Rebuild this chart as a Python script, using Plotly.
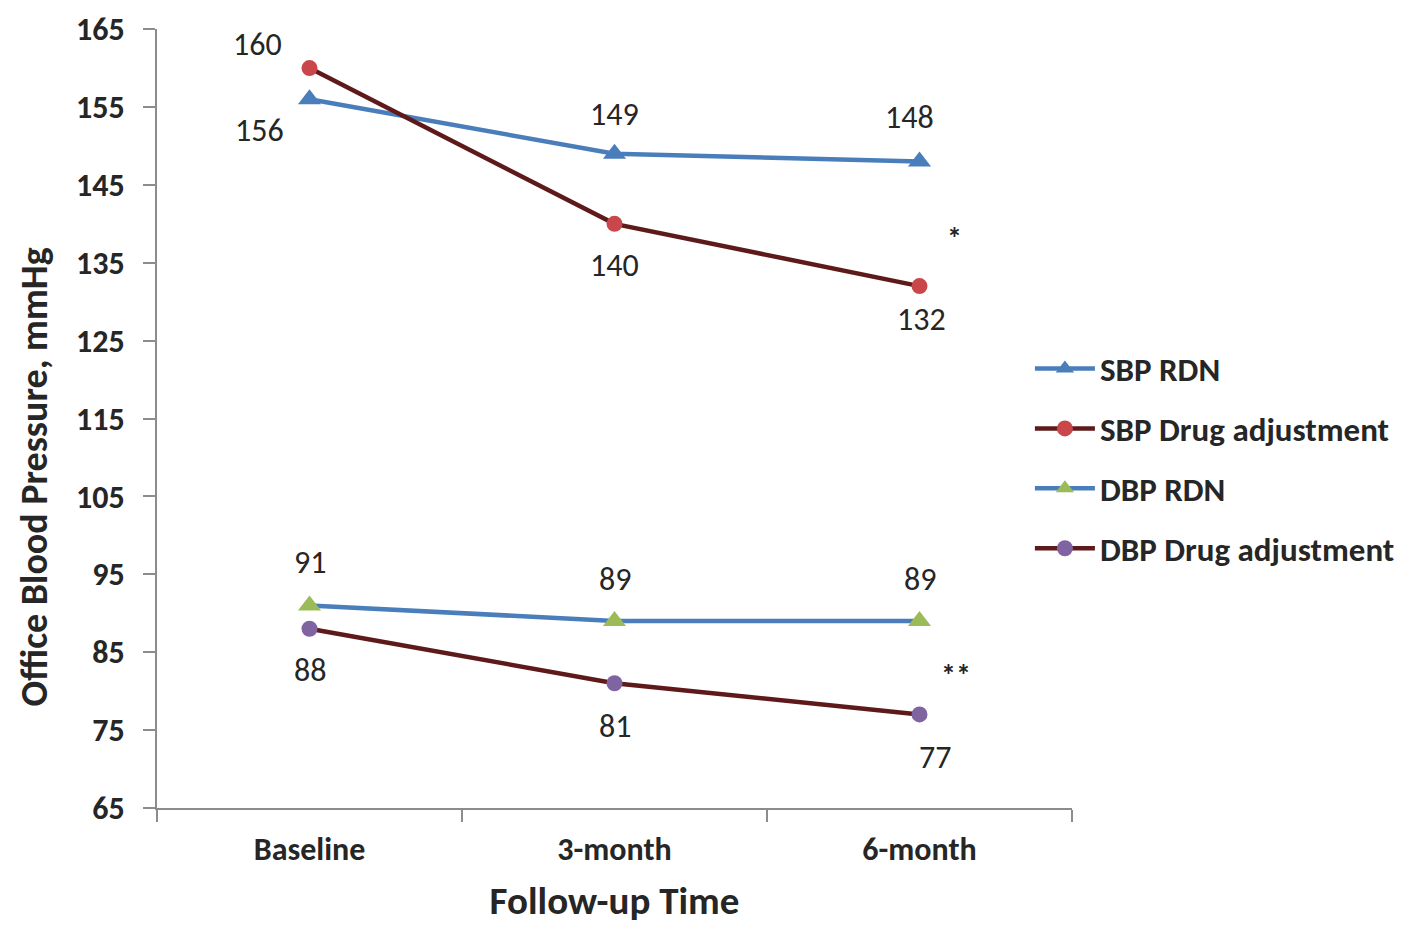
import plotly.graph_objects as go

categories = ["Baseline", "3-month", "6-month"]
sbp_rdn = [156, 149, 148]
sbp_drug = [160, 140, 132]
dbp_rdn = [91, 89, 89]
dbp_drug = [88, 81, 77]
y_ticks = [65, 75, 85, 95, 105, 115, 125, 135, 145, 155, 165]

FONT = "Carlito, 'Liberation Sans Narrow', 'Open Sans', sans-serif"
BLUE = "#4A7EBB"
DARKRED = "#5E1A1A"
TXT = "#262626"
AXC = "#8C8C8C"

series = [
    ("SBP RDN", sbp_rdn, BLUE, "triangle-up", BLUE, 20),
    ("SBP Drug adjustment", sbp_drug, DARKRED, "circle", "#C9474A", 16),
    ("DBP RDN", dbp_rdn, BLUE, "triangle-up", "#9BBB59", 20),
    ("DBP Drug adjustment", dbp_drug, DARKRED, "circle", "#8064A2", 16),
]

fig = go.Figure()
for i, (name, vals, lc, sym, mc, ms) in enumerate(series):
    fig.add_trace(go.Scatter(
        x=categories, y=vals, name=name, mode="lines+markers",
        line=dict(color=lc, width=4.5),
        marker=dict(symbol=sym, color=mc, size=ms),
        legendgroup=f"g{i}",
    ))

# label offsets (px): (xshift, yshift) per series per point
offsets = [
    [(-50, -31), (0, 39), (-10, 44)],
    [(-52, 24), (0, -42), (2, -33)],
    [(0, 43), (0, 41), (0, 41)],
    [(0, -42), (0, -43), (15, -43)],
]
for (name, vals, *_), offs in zip(series, offsets):
    for c, v, (dx, dy) in zip(categories, vals, offs):
        fig.add_annotation(x=c, y=v, text=str(v), showarrow=False,
                           xshift=dx, yshift=dy,
                           font=dict(family=FONT, size=32, color=TXT))

fig.add_annotation(x="6-month", y=139.5, text="<b>*</b>", showarrow=False, xshift=35, yshift=-10,
                   font=dict(family=FONT, size=30, color=TXT))
fig.add_annotation(x="6-month", y=83.5, text="<b>**</b>", showarrow=False, xshift=36, yshift=-11,
                   font=dict(family=FONT, size=30, color=TXT))

# y-axis title
fig.add_annotation(xref="paper", yref="paper", x=-0.135, y=0.425, text="<b>Office Blood Pressure, mmHg</b>",
                   textangle=-90, showarrow=False, xanchor="center", yanchor="middle",
                   font=dict(family=FONT, size=38, color=TXT))

fig.update_layout(
    width=1408, height=926,
    margin=dict(l=149, r=344, t=21, b=126),
    paper_bgcolor="white", plot_bgcolor="white",
    font=dict(family=FONT, color=TXT),
    showlegend=True,
    legend=dict(x=0.954, y=0.6, xanchor="left", yanchor="top",
                font=dict(family=FONT, size=33, color=TXT, weight="bold"),
                tracegroupgap=14, itemwidth=60, bgcolor="rgba(0,0,0,0)"),
    xaxis=dict(
        type="category", range=[-0.5, 2.5], tickson="boundaries",
        showline=True, linecolor=AXC, linewidth=2,
        ticks="outside", ticklen=12, tickcolor=AXC, tickwidth=2,
        showgrid=False, zeroline=False, ticklabelstandoff=12, automargin=False,
        tickfont=dict(family=FONT, size=32, color=TXT, weight="bold"),
        title=dict(text="<b>Follow-up Time</b>", font=dict(family=FONT, size=39, color=TXT), standoff=18),
    ),
    yaxis=dict(
        range=[64.98, 165.02], tickvals=y_ticks, ticktext=[f"<b>{t}</b>" for t in y_ticks],
        showline=True, linecolor=AXC, linewidth=2,
        ticks="outside", ticklen=12, tickcolor=AXC, tickwidth=2,
        showgrid=False, zeroline=False, ticklabelstandoff=12,
        ticklabeloverflow="allow", automargin=False,
        tickfont=dict(family=FONT, size=32, color=TXT),
    ),
)

fig.write_html("out.html")
